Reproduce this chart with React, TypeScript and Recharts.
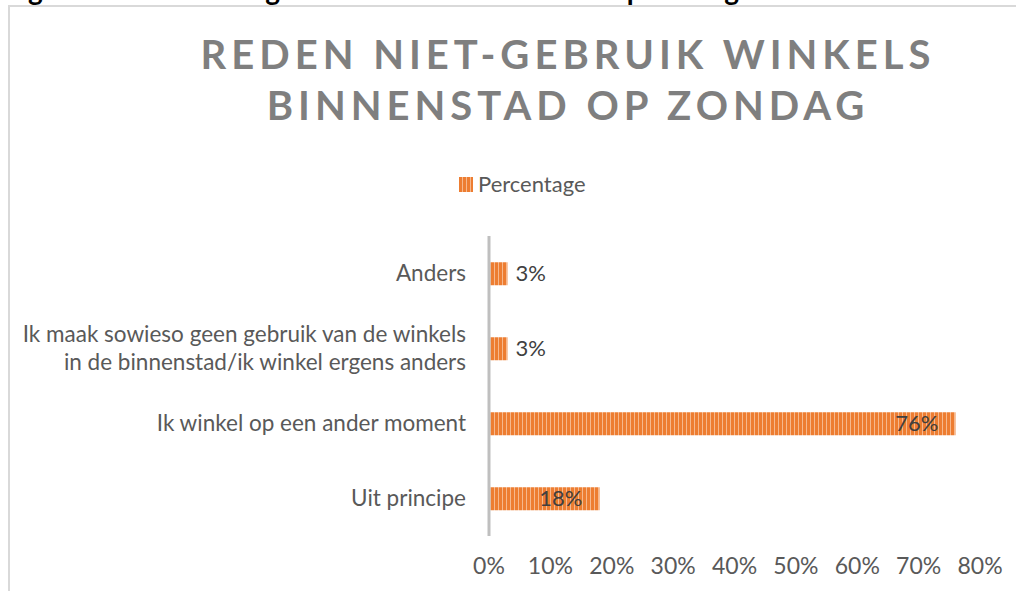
import React from "react";
import { BarChart, Bar, XAxis, YAxis, LabelList } from "recharts";

const categories: string[] = [
  "Anders",
  "Ik maak sowieso geen gebruik van de winkels|in de binnenstad/ik winkel ergens anders",
  "Ik winkel op een ander moment",
  "Uit principe",
];
const percentages: number[] = [3, 3, 76, 18];
const xTicks: number[] = [0, 10, 20, 30, 40, 50, 60, 70, 80];
const titleLines: string[] = ["REDEN NIET-GEBRUIK WINKELS", "BINNENSTAD OP ZONDAG"];
const seriesName = "Percentage";
const caption = "Figuur 1: Reden niet-gebruik winkels binnenstad op zondag";

const data = categories.map((c, i) => ({ name: c, value: percentages[i] }));

const FONT = "Lato, 'Open Sans', sans-serif";
const ORANGE = "#ed7d31";

const Stripes = ({ id }: { id: string }) => (
  <pattern id={id} width="4" height="4" patternUnits="userSpaceOnUse">
    <rect width="4" height="4" fill={ORANGE} />
    <rect x="2" width="1" height="4" fill="#f6b88d" />
  </pattern>
);

const CatTick = (props: any) => {
  const { x, y, payload } = props;
  const lines = String(payload.value).split("|");
  const lh = 28;
  const start = y - ((lines.length - 1) * lh) / 2;
  return (
    <g>
      {lines.map((l, i) => (
        <text
          key={i}
          x={x - 15}
          y={start + i * lh}
          dy="0.35em"
          textAnchor="end"
          fontFamily={FONT}
          fontSize={22.5}
          fill="#595959"
        >
          {l}
        </text>
      ))}
    </g>
  );
};

const XTick = (props: any) => {
  const { x, y, payload } = props;
  return (
    <text x={x} y={y + 22} dy="0.35em" textAnchor="middle" fontFamily={FONT} fontSize={23} fill="#595959">
      {payload.value}%
    </text>
  );
};

const BarLabel = (props: any) => {
  const { x, y, width, height, value } = props;
  const txt = Math.round(value) + "%";
  const inside = value > 10;
  return (
    <text
      x={inside ? x + width - 17 : x + width + 8}
      y={y + height / 2}
      dy="0.35em"
      textAnchor={inside ? "end" : "start"}
      fontFamily={FONT}
      fontSize={22}
      fill="#404040"
    >
      {txt}
    </text>
  );
};

export default function App() {
  return (
    <div style={{ position: "absolute", left: 0, top: 0, width: 1016, height: 591, overflow: "hidden", background: "#fff" }}>
      <div
        style={{
          position: "absolute",
          left: 8,
          top: 5,
          width: 1100,
          height: 700,
          border: "2px solid #d9d9d9",
          boxSizing: "border-box",
        }}
      />
      <svg width={1016} height={591} style={{ position: "absolute", left: 0, top: 0 }}>
        <defs>
          <Stripes id="legendStripes" />
        </defs>
        <text x={5} y={0} fontFamily={FONT} fontWeight="bold" fontSize={28} fill="#000">
          {caption}
        </text>
        {titleLines.map((t, i) => (
          <text
            key={i}
            x={568}
            y={69 + i * 51}
            textAnchor="middle"
            fontFamily={FONT}
            fontWeight="bold"
            fontSize={40}
            letterSpacing={5}
            fill="#7f7f7f"
          >
            {t}
          </text>
        ))}
        <rect x={459} y={177} width={14} height={15} fill="url(#legendStripes)" />
        <text x={478} y={184} dy="0.35em" fontFamily={FONT} fontSize={22} fill="#595959">
          {seriesName}
        </text>
      </svg>
      <div style={{ position: "absolute", left: 0, top: 0 }}>
        <BarChart
          width={1016}
          height={591}
          data={data}
          layout="vertical"
          margin={{ top: 236, right: 36, bottom: 0, left: 0 }}
          barCategoryGap="35%"
        >
          <defs>
            <Stripes id="barStripes" />
          </defs>
          <XAxis
            type="number"
            domain={[0, 80]}
            ticks={xTicks}
            axisLine={false}
            tickLine={false}
            tick={<XTick />}
            height={55}
          />
          <YAxis
            type="category"
            dataKey="name"
            width={489}
            axisLine={{ stroke: "#bfbfbf", strokeWidth: 3 }}
            tickLine={false}
            tick={<CatTick />}
            interval={0}
          />
          <Bar dataKey="value" fill="url(#barStripes)" isAnimationActive={false}>
            <LabelList dataKey="value" content={<BarLabel />} />
          </Bar>
        </BarChart>
      </div>
    </div>
  );
}
